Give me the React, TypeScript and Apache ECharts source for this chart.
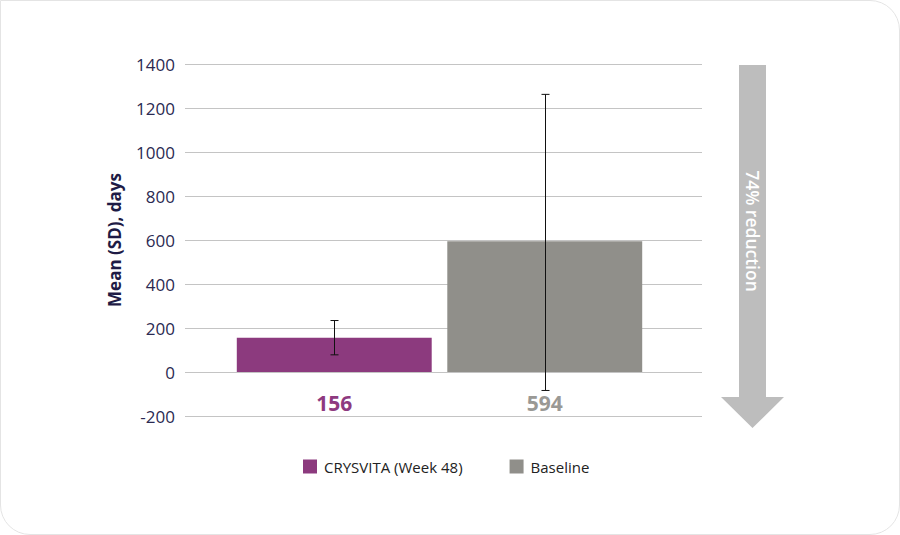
import React, { useEffect, useRef } from "react";
import * as echarts from "echarts";

const categories = ["Mean"];
const seriesNames = ["CRYSVITA (Week 48)", "Baseline"];
const crysvitaValues = [156];
const baselineValues = [594];
// error bars: [low, high]
const crysvitaError = [78, 234];
const baselineError = [-84, 1262];
const yTicks = { min: -200, max: 1400, interval: 200 };
const reductionText = "74% reduction";

const PURPLE = "#8C3A7E";
const GRAY = "#908F8A";
const FONT = "'Open Sans', Lato, sans-serif";

export default function App() {
  const ref = useRef<HTMLDivElement>(null);
  useEffect(() => {
    if (!ref.current) return;
    const chart = echarts.init(ref.current, undefined, { renderer: "svg" });
    const BAR_W = 0.377;
    const GAP = 0.08;
    const yBase = {
      type: "value",
      min: yTicks.min,
      max: yTicks.max,
      interval: yTicks.interval,
      axisLine: { show: false },
      axisTick: { show: false },
    };
    chart.setOption({
      animation: false,
      textStyle: { fontFamily: FONT },
      grid: [
        { left: 185, right: 198, top: 64, bottom: 119, containLabel: false },
        { left: 181, right: 202, top: 64, bottom: 119, containLabel: false },
      ],
      legend: {
        data: seriesNames,
        top: 454,
        left: 298,
        itemWidth: 14,
        itemHeight: 14,
        itemGap: 47,
        icon: "rect",
        textStyle: { fontSize: 15, color: "#222222", fontFamily: FONT, padding: [0, 0, 0, 2] },
      },
      xAxis: [
        { type: "category", data: categories, show: false, gridIndex: 0 },
        { type: "category", data: categories, show: false, gridIndex: 1 },
      ],
      yAxis: [
        {
          ...yBase,
          gridIndex: 0,
          name: "Mean (SD), days",
          nameLocation: "middle",
          nameGap: 62,
          nameTextStyle: { fontSize: 17, fontWeight: "bold", color: "#1E1B45", fontFamily: FONT },
          axisLabel: {
            fontSize: 17,
            color: "#2B2A52",
            margin: 10,
            fontFamily: FONT,
            formatter: (v: number) => String(v),
          },
          splitLine: { lineStyle: { color: "#C4C4C4", width: 1 } },
        },
        {
          ...yBase,
          gridIndex: 1,
          show: false,
          splitLine: { show: false },
        },
      ],
      series: [
        {
          name: seriesNames[0],
          type: "bar",
          xAxisIndex: 1,
          yAxisIndex: 1,
          data: crysvitaValues,
          barWidth: BAR_W * 100 + "%",
          barGap: GAP * 100 + "%",
          itemStyle: { color: PURPLE },
          label: {
            show: true,
            position: "bottom",
            distance: 20,
            fontSize: 21,
            fontWeight: "bold",
            color: "#8E3A80",
            fontFamily: FONT,
          },
        },
        {
          name: seriesNames[1],
          type: "bar",
          xAxisIndex: 1,
          yAxisIndex: 1,
          data: baselineValues,
          barWidth: BAR_W * 100 + "%",
          barGap: GAP * 100 + "%",
          itemStyle: { color: GRAY },
          label: {
            show: true,
            position: "bottom",
            distance: 20,
            fontSize: 21,
            fontWeight: "bold",
            color: "#9A9995",
            fontFamily: FONT,
          },
        },
        {
          type: "custom",
          xAxisIndex: 1,
          yAxisIndex: 1,
          z: 10,
          data: [
            [0, crysvitaError[0], crysvitaError[1], 0],
            [0, baselineError[0], baselineError[1], 1],
          ],
          renderItem: (params: any, api: any) => {
            const idx = api.value(0);
            const lo = api.coord([idx, api.value(1)]);
            const hi = api.coord([idx, api.value(2)]);
            const band = api.size([1, 0])[0];
            const off = (band * BAR_W * (1 + GAP)) / 2;
            const x = Math.round(lo[0] + (api.value(3) === 0 ? -off : off)) + 0.5;
            const cap = 4;
            const style = { stroke: "#111111", lineWidth: 1 };
            return {
              type: "group",
              children: [
                { type: "line", shape: { x1: x, y1: hi[1], x2: x, y2: lo[1] }, style },
                { type: "line", shape: { x1: x - cap, y1: hi[1], x2: x + cap, y2: hi[1] }, style },
                { type: "line", shape: { x1: x - cap, y1: lo[1], x2: x + cap, y2: lo[1] }, style },
              ],
            };
          },
        },
      ],
      graphic: [
        {
          type: "polygon",
          shape: {
            points: [
              [739, 65],
              [766, 65],
              [766, 397],
              [784, 397],
              [752.5, 428],
              [721, 397],
              [739, 397],
            ],
          },
          style: { fill: "#BDBDBD" },
          z: 5,
        },
        {
          type: "text",
          x: 752.5,
          y: 231,
          rotation: -Math.PI / 2,
          style: {
            text: reductionText,
            fill: "#FFFFFF",
            fontSize: 17.5,
            fontWeight: 600,
            fontFamily: FONT,
            align: "center",
            verticalAlign: "middle",
          },
          z: 6,
        },
      ],
    });
    return () => chart.dispose();
  }, []);

  return (
    <div
      style={{
        position: "fixed",
        left: 0,
        top: 0,
        width: 900,
        height: 535,
        boxSizing: "border-box",
        border: "1px solid #E4E4E4",
        borderRadius: "0 30px 30px 30px",
        background: "#FFFFFF",
        overflow: "hidden",
      }}
    >
      <div ref={ref} style={{ position: "absolute", left: -1, top: -1, width: 900, height: 535 }} />
    </div>
  );
}
